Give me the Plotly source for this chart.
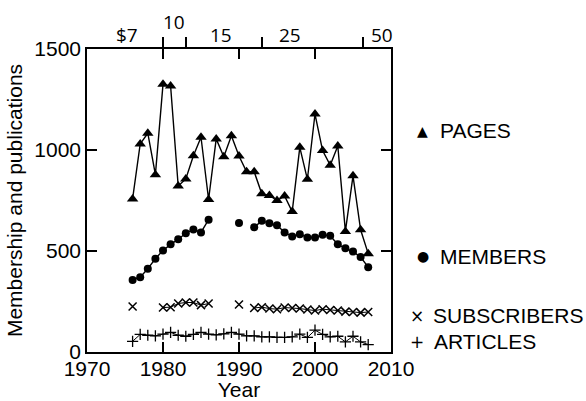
import plotly.graph_objects as go

years = list(range(1976, 2008))

pages = [758, 1030, 1083, 878, 1325, 1317, 822, 857, 972, 1063, 755, 1055, 967, 1070,
         970, 892, 892, 783, 775, 750, 772, 695, 1013, 855, 1178, 997, 925, 1020, 597,
         872, 605, 487]

members = [357, 370, 412, 462, 503, 533, 558, 588, 607, 592, 655, None, None, None,
           638, None, 617, 650, 637, 628, 592, 572, 583, 567, 567, 580, 575, 533, 513,
           497, 470, 420]

subscribers = [225, None, None, None, 220, 222, 240, 245, 245, 232, 240, None, None, None,
               235, None, 218, 222, 215, 212, 220, 218, 215, 210, 205, 212, 208, 205, 200,
               198, 195, 198]

articles = [53, 87, 83, 80, 88, 97, 83, 78, 87, 97, 88, 85, 90, 97, 88, 80, 80, 75, 75,
            72, 72, 75, 88, 72, 108, 87, 75, 78, 50, 78, 50, 37]

dues_ticks = [1980, 1983, 1993, 2006.35]
dues_labels = ["$7", "10", "15", "25", "50"]
dues_label_x = [1975.2, 1981.4, 1987.6, 1996.7, 2008.8]
dues_label_y = [1.046, 1.089, 1.046, 1.046, 1.046]

legend_names = ["PAGES", "MEMBERS", "SUBSCRIBERS", "ARTICLES"]
legend_syms = ["▲", "●", "×", "+"]
legend_y = [1095, 475, 180, 50]
legend_text_x = [1.155, 1.155, 1.13, 1.135]
legend_sym_x = [1.105, 1.105, 1.085, 1.085]

FONT = "Liberation Sans, Arial, sans-serif"

fig = go.Figure()
line = dict(color="black", width=1.4)
fig.add_trace(go.Scatter(x=years, y=pages, mode="lines+markers", line=line,
                         marker=dict(symbol="triangle-up", size=10, color="black")))
fig.add_trace(go.Scatter(x=years, y=members, mode="lines+markers", line=line,
                         marker=dict(symbol="circle", size=8, color="black")))
fig.add_trace(go.Scatter(x=years, y=subscribers, mode="lines+markers", line=dict(color="black", width=1),
                         marker=dict(symbol="x-thin", size=8, color="black",
                                     line=dict(color="black", width=1.5))))
fig.add_trace(go.Scatter(x=years, y=articles, mode="lines+markers", line=dict(color="black", width=1),
                         marker=dict(symbol="cross-thin", size=8, color="black",
                                     line=dict(color="black", width=1.3))))
# dummy trace to activate top dues axis
fig.add_trace(go.Scatter(x=[1970, 2010], y=[None, None], xaxis="x2", mode="markers",
                         marker=dict(opacity=0), hoverinfo="skip"))

for name, sym, y, tx, sx in zip(legend_names, legend_syms, legend_y, legend_text_x, legend_sym_x):
    fig.add_annotation(x=sx, y=y, xref="paper", yref="y", text=sym, showarrow=False,
                       xanchor="center", yanchor="middle",
                       font=dict(family="DejaVu Sans", size=14 if sym in "▲●" else 17, color="black"))
    fig.add_annotation(x=tx, y=y, xref="paper", yref="y", text=name, showarrow=False,
                       xanchor="left", yanchor="middle",
                       font=dict(family=FONT, size=21, color="black"))

for lab, lx, ly in zip(dues_labels, dues_label_x, dues_label_y):
    fig.add_annotation(x=lx, y=ly, xref="x", yref="paper", text=lab, showarrow=False,
                       xanchor="center", yanchor="middle",
                       font=dict(family="Open Sans", size=19, color="black"))

fig.update_layout(
    width=586, height=401,
    margin=dict(l=87, r=195, t=49, b=49),
    paper_bgcolor="white", plot_bgcolor="white",
    showlegend=False,
    font=dict(family=FONT, size=21, color="black"),
    xaxis=dict(range=[1970, 2010], tickvals=[1970, 1980, 1990, 2000, 2010],
               ticks="inside", ticklen=10, tickwidth=1.5, tickcolor="black",
               showline=True, linecolor="black", linewidth=1.5, mirror="ticks",
               showgrid=False, zeroline=False, ticklabelstandoff=-3,
               title=dict(text="Year", standoff=0, font=dict(size=21)),
               automargin=False),
    xaxis2=dict(range=[1970, 2010], overlaying="x", side="top", anchor="y",
                tickvals=dues_ticks, ticks="outside", ticklen=11, tickwidth=1.5,
                tickcolor="black", showticklabels=False, showline=False,
                showgrid=False, zeroline=False),
    yaxis=dict(range=[0, 1500], tickvals=[0, 500, 1000, 1500],
               ticks="inside", ticklen=10, tickwidth=1.5, tickcolor="black",
               showline=True, linecolor="black", linewidth=1.5, mirror="ticks",
               showgrid=False, zeroline=False,
               title=dict(text="Membership and publications", standoff=6, font=dict(size=21)),
               automargin=False),
)

fig.write_html("out.html", config={"displayModeBar": False},
               post_script="document.body.style.margin='0';document.body.style.overflow='hidden';")
